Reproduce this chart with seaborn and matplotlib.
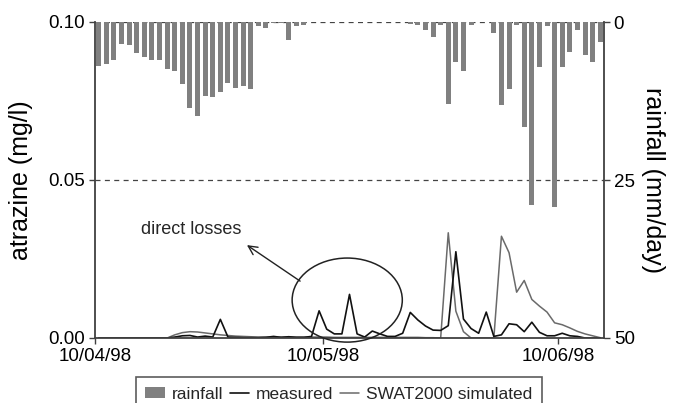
import numpy as np
import pandas as pd
import matplotlib
matplotlib.use("Agg")
import matplotlib.pyplot as plt
import seaborn as sns
from matplotlib.patches import Ellipse

# ---- data (daily, day 0 = 10/04/98) ----
days = list(range(67))
rainfall = [6.9, 6.6, 6.0, 3.5, 3.6, 4.9, 5.5, 6.0, 6.0, 7.4,
            7.7, 9.8, 13.6, 14.8, 11.7, 11.8, 11.0, 9.7, 10.4, 10.1,
            10.6, 0.7, 1.0, 0.1, 0.1, 2.8, 0.7, 0.4, 0.0, 0.0,
            0.0, 0.0, 0.0, 0.0, 0.0, 0.0, 0.0, 0.0, 0.0, 0.0,
            0.0, 0.3, 0.4, 1.2, 2.3, 0.4, 12.9, 6.3, 7.7, 0.4,
            0.0, 0.0, 1.8, 13.1, 10.6, 0.4, 16.6, 29.0, 7.1, 0.7,
            29.3, 7.1, 4.7, 1.2, 5.3, 6.3, 3.1]
measured = [0, 0, 0, 0, 0, 0, 0, 0, 0, 0,
            0.0003, 0.0007, 0.0008, 0.0003, 0.0006, 0.0003, 0.0059, 0.0003, 0.0002, 0.0001,
            0.0001, 0.0001, 0.0002, 0.0005, 0.0002, 0.0004, 0.0002, 0.0002, 0.0005, 0.0086,
            0.0028, 0.0013, 0.0013, 0.0138, 0.0013, 0.0003, 0.0022, 0.0013, 0.0005, 0.0005,
            0.0015, 0.0081, 0.0057, 0.0038, 0.0025, 0.0024, 0.0039, 0.0273, 0.0060, 0.0030,
            0.0015, 0.0082, 0.0005, 0.0010, 0.0045, 0.0042, 0.0020, 0.0050, 0.0018, 0.0007,
            0.0007, 0.0015, 0.0007, 0.0005, 0.0, 0.0, 0.0]
swat = [0, 0, 0, 0, 0, 0, 0, 0, 0, 0,
        0.0010, 0.0017, 0.0020, 0.0019, 0.0016, 0.0013, 0.0010, 0.0008, 0.0006, 0.0005,
        0.0004, 0.0003, 0.0003, 0.0003, 0.0003, 0.0003, 0.0003, 0.0003, 0.0003, 0.0003,
        0.0003, 0.0002, 0.0002, 0.0002, 0.0002, 0.0002, 0.0002, 0.0002, 0.0002, 0.0002,
        0.0002, 0.0002, 0.0002, 0.0001, 0.0001, 0.0, 0.0333, 0.0085, 0.0020, 0.0,
        0.0, 0.0, 0.0, 0.0322, 0.0270, 0.0145, 0.0182, 0.0122, 0.0101, 0.0082,
        0.0048, 0.0042, 0.0032, 0.0021, 0.0013, 0.0007, 0.0001]
date_ticks = [0, 30, 61]
date_labels = ["10/04/98", "10/05/98", "10/06/98"]
conc_ticks = [0.0, 0.05, 0.10]
conc_labels = ["0.00", "0.05", "0.10"]
rain_ticks = [0, 25, 50]
rain_labels = ["0", "25", "50"]

sns.set_theme(style="white")
plt.rcParams['font.family'] = ['Liberation Sans', 'DejaVu Sans']

df = pd.DataFrame({"day": np.array(days) + 0.5, "rainfall": rainfall,
                   "measured": measured, "swat": swat})

fig = plt.figure(figsize=(6.78, 4.03), dpi=100)
ax = fig.add_axes([95 / 678, 1 - 338 / 403, 509 / 678, 316 / 403])
ax2 = ax.twinx()

BAR = "#808080"
SPINE = "#404040"

# gridlines (dashed)
for yv in [0.05, 0.10]:
    ax.axhline(yv, color="#444444", lw=0.9, ls=(0, (4, 3.5)), zorder=0)

sns.lineplot(data=df, x="day", y="swat", color="#6a6a6a", lw=1.1, ax=ax, legend=False)
sns.lineplot(data=df, x="day", y="measured", color="#111111", lw=1.2, ax=ax, legend=False)
lines = ax.get_lines()[-2:]

sns.barplot(data=df, x="day", y="rainfall", native_scale=True, orient="x",
            color=BAR, saturation=1, width=0.66, errorbar=None, linewidth=0, ax=ax2)

ax.set_xlim(0, 67)
ax.set_ylim(0, 0.10)
ax2.set_ylim(50, 0)
ax.set_xticks(date_ticks)
ax.set_xticklabels(date_labels)
ax.set_yticks(conc_ticks)
ax.set_yticklabels(conc_labels)
ax2.set_yticks(rain_ticks)
ax2.set_yticklabels(rain_labels)
ax.set_xlabel("")

for a in (ax, ax2):
    for s in a.spines.values():
        s.set_color(SPINE)
        s.set_linewidth(1.3)
    a.spines["top"].set_visible(False)
ax.spines["right"].set_visible(False)
ax2.spines["left"].set_visible(False)
ax2.spines["bottom"].set_visible(False)

ax.tick_params(axis="both", direction="out", length=4, width=1, color=SPINE,
               labelsize=13.5, labelcolor="black", left=True, bottom=True, pad=3)
ax2.tick_params(axis="y", direction="out", length=4, width=1, color=SPINE,
                labelsize=13.5, labelcolor="black", right=True, pad=3)

ax.set_ylabel("atrazine (mg/l)", fontsize=18, color="black", va="center", ha="center")
ax.yaxis.set_label_coords(-0.145, 0.5)
ax2.set_ylabel("rainfall (mm/day)", fontsize=18, color="black", rotation=270,
               va="center", ha="center")
ax2.yaxis.set_label_coords(1.097, 0.5)

# annotation
ax.add_patch(Ellipse((33.2, 0.012), width=14.5, height=0.0266, fill=False,
                     edgecolor="#222222", lw=1.1, clip_on=False, zorder=5))
ax.annotate("", xy=(20.0, 0.0294), xytext=(27.0, 0.018),
            arrowprops=dict(arrowstyle="->", color="#222222", lw=1.0,
                            shrinkA=0, shrinkB=0, mutation_scale=16))
ax.text(12.6, 0.0342, "direct losses", ha="center", va="center", fontsize=13)

# legend
bar_handle = ax2.patches[0]
handles = [bar_handle, lines[1], lines[0]]
labels = ["rainfall", "measured", "SWAT2000 simulated"]
leg = fig.legend(handles, labels, loc="upper center", bbox_to_anchor=(0.5, 1 - 377 / 403),
                 ncol=3, fontsize=12.5, frameon=True, fancybox=False, edgecolor="#333333",
                 handlelength=1.1, handleheight=0.6, handletextpad=0.4, columnspacing=0.4,
                 borderpad=0.55, borderaxespad=0)
leg.get_frame().set_linewidth(1.2)

fig.savefig("out.png", dpi=100)
